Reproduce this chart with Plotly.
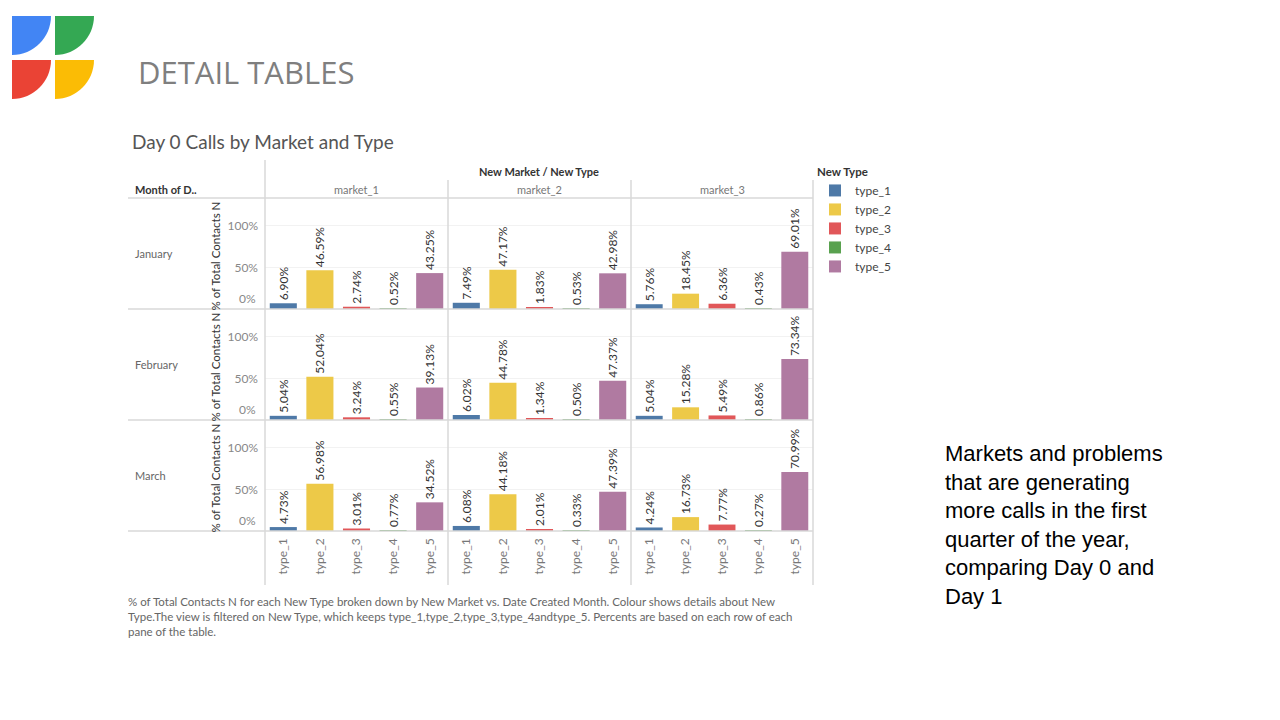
import plotly.graph_objects as go

# ---------------- data ----------------
months = ["January", "February", "March"]
markets = ["market_1", "market_2", "market_3"]
types = ["type_1", "type_2", "type_3", "type_4", "type_5"]

jan_m1 = [6.90, 46.59, 2.74, 0.52, 43.25]
jan_m2 = [7.49, 47.17, 1.83, 0.53, 42.98]
jan_m3 = [5.76, 18.45, 6.36, 0.43, 69.01]
feb_m1 = [5.04, 52.04, 3.24, 0.55, 39.13]
feb_m2 = [6.02, 44.78, 1.34, 0.50, 47.37]
feb_m3 = [5.04, 15.28, 5.49, 0.86, 73.34]
mar_m1 = [4.73, 56.98, 3.01, 0.77, 34.52]
mar_m2 = [6.08, 44.18, 2.01, 0.33, 47.39]
mar_m3 = [4.24, 16.73, 7.77, 0.27, 70.99]

values = [[jan_m1, jan_m2, jan_m3],
          [feb_m1, feb_m2, feb_m3],
          [mar_m1, mar_m2, mar_m3]]

type_colors = ["#4e79a7", "#edc948", "#e15759", "#59a14f", "#b07aa1"]
y_ticks = [0.5, 1.0]
y_tick_text = ["50%", "100%"]
zero_label = "0%"

# ---------------- layout helpers (page pixel -> paper) ----------------
OFF = 8                      # default body margin of the html page
W, H = 1280 - 2 * OFF, 694
def px(x):
    return (x - OFF) / W
def py(y):
    return 1 - (y - OFF) / H

col_edges = [265, 448, 631, 813]
row_edges = [198, 309, 420, 531]
FONT = "Lato"

fig = go.Figure()
layout = {}
ann = []

for r in range(3):
    for c in range(3):
        idx = r * 3 + c + 1
        xa = "x" if idx == 1 else f"x{idx}"
        ya = "y" if idx == 1 else f"y{idx}"
        vals = values[r][c]
        for t in range(5):
            fig.add_trace(go.Bar(
                x=[types[t]], y=[vals[t] / 100],
                text=[f"{vals[t]:.2f}%"],
                textposition="outside", textangle=-90,
                textfont=dict(size=12, color="#333333", family=FONT),
                constraintext="none", cliponaxis=False,
                marker=dict(color=type_colors[t], line=dict(width=0)),
                name=types[t], legendgroup=types[t],
                showlegend=(idx == 1),
                xaxis=xa, yaxis=ya, hoverinfo="skip",
            ))
        kx = "xaxis" if idx == 1 else f"xaxis{idx}"
        ky = "yaxis" if idx == 1 else f"yaxis{idx}"
        layout[kx] = dict(
            domain=[px(col_edges[c]), px(col_edges[c + 1])],
            anchor=ya, type="category", categoryorder="array", categoryarray=types,
            range=[-0.5, 4.5], showgrid=False, zeroline=False, showline=False,
            showticklabels=(r == 2), tickangle=-90, ticks="",
            ticklabelstandoff=4,
            tickfont=dict(size=12, color="#777777", family=FONT),
        )
        layout[ky] = dict(
            domain=[py(row_edges[r + 1]), py(row_edges[r])],
            anchor=xa, range=[0, 1.337], tickvals=y_ticks, ticktext=y_tick_text,
            showgrid=True, gridcolor="#f2f2f2", gridwidth=1, zeroline=False,
            showline=False, showticklabels=(c == 0), ticks="",
            ticklabelstandoff=6,
            tickfont=dict(size=12, color="#888888", family=FONT),
        )
        if c == 0:
            # Tableau keeps the 0% label inside the pane, just above the baseline
            ann.append(dict(x=px(258), y=0, xref="paper", yref=ya, text=zero_label,
                            showarrow=False, xanchor="right", yanchor="bottom",
                            yshift=1,
                            font=dict(size=12, color="#888888", family=FONT)))

fig.update_layout(**layout)

# ---------------- grid / table lines ----------------
shapes = []
line_col = "#d9d9d9"
for yv in row_edges:
    shapes.append(dict(type="line", xref="paper", yref="paper",
                       x0=px(128), x1=px(813), y0=py(yv), y1=py(yv),
                       line=dict(color=line_col, width=1.5)))
shapes.append(dict(type="line", xref="paper", yref="paper",
                   x0=px(265), x1=px(265), y0=py(160), y1=py(585),
                   line=dict(color=line_col, width=1.5)))
for xv in col_edges[1:]:
    shapes.append(dict(type="line", xref="paper", yref="paper",
                       x0=px(xv), x1=px(xv), y0=py(180), y1=py(585),
                       line=dict(color=line_col, width=1.5)))

# ---------------- logo ----------------
def quarter(x0, y0, rad, color):
    k = 0.5523 * rad
    pts = [
        f"M{px(x0)},{py(y0)}",
        f"L{px(x0 + rad)},{py(y0)}",
        f"C{px(x0 + rad)},{py(y0 + k)} {px(x0 + k)},{py(y0 + rad)} {px(x0)},{py(y0 + rad)}",
        "Z",
    ]
    return dict(type="path", xref="paper", yref="paper", path=" ".join(pts),
                fillcolor=color, line=dict(width=0))

shapes += [quarter(12, 16, 39, "#4285F4"), quarter(55, 16, 39, "#34A853"),
           quarter(12, 60, 39, "#EA4335"), quarter(55, 60, 39, "#FBBC05")]

# ---------------- annotations ----------------
def text(x, y, s, size=11, color="#333333", xanchor="left", yanchor="middle",
         family=FONT, angle=0, align="left"):
    ann.append(dict(x=px(x), y=py(y), xref="paper", yref="paper", text=s,
                    showarrow=False, xanchor=xanchor, yanchor=yanchor,
                    textangle=angle, align=align,
                    font=dict(size=size, color=color, family=family)))

text(136, 72, "DETAIL TABLES", size=31, color="#7f7f7f", family="Open Sans")
text(130, 141, "Day 0 Calls by Market and Type", size=19, color="#555555")
text(539, 171, "<b>New Market / New Type</b>", size=11, xanchor="center")
text(133, 189, "<b>Month of D..</b>", size=11)
for c, m in enumerate(markets):
    text((col_edges[c] + col_edges[c + 1]) / 2, 189, m, size=11, color="#777777",
         xanchor="center")
for r, mth in enumerate(months):
    yc = (row_edges[r] + row_edges[r + 1]) / 2
    text(133, yc, mth, size=11, color="#666666")
    text(215, yc + 3, "% of Total Contacts N", size=11.5, color="#333333",
         xanchor="center", angle=-90)

text(126, 593,
     "% of Total Contacts N for each New Type broken down by New Market vs. Date Created Month. Colour shows details about New<br>"
     "Type.The view is filtered on New Type, which keeps type_1,type_2,type_3,type_4andtype_5. Percents are based on each row of each<br>"
     "pane of the table.",
     size=11.5, color="#666666", yanchor="top")

text(943, 439,
     "Markets and problems<br>that are generating<br>more calls in the first<br>"
     "quarter of the year,<br>comparing Day 0 and<br>Day 1",
     size=22, color="#000000", family="Liberation Sans", yanchor="top")

fig.update_layout(
    width=W, height=H, margin=dict(l=0, r=0, t=0, b=0),
    paper_bgcolor="white", plot_bgcolor="white",
    barmode="relative", bargap=0.26,
    shapes=shapes, annotations=ann,
    legend=dict(x=px(815), y=py(161), xanchor="left", yanchor="top",
                title=dict(text="<b>New Type</b>", font=dict(size=11.5, color="#333333", family=FONT)),
                font=dict(size=12, color="#444444", family=FONT),
                itemwidth=30, tracegroupgap=0, bgcolor="rgba(0,0,0,0)"),
    font=dict(family=FONT),
)

fig.write_html("out.html")
